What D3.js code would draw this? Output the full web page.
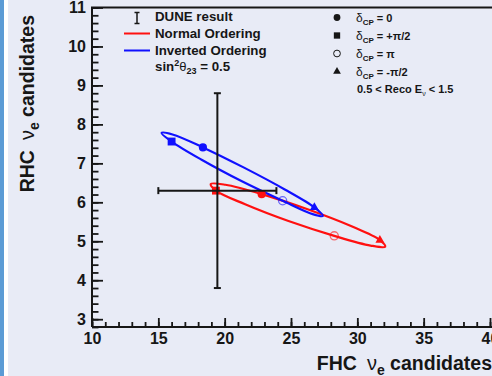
<!DOCTYPE html>
<html>
<head>
<meta charset="utf-8">
<script src="https://cdn.jsdelivr.net/npm/d3@7/dist/d3.min.js"></script>
<style>
  html, body { margin: 0; padding: 0; background: #e8ebf6; }
  svg { display: block; font-family: "Liberation Sans", Arial, Helvetica, sans-serif; }
</style>
</head>
<body>
<svg id="chart" width="492" height="376"></svg>
<script>
// Outline of the allowed (FHC, RHC) region as delta_CP runs round the circle
const normalOrderingCurve = [
  [22.79, 6.21], [20.06, 6.45], [18.95, 6.47], [19.34, 6.30], [21.54, 5.95], [24.81, 5.52],
  [28.26, 5.14], [31.00, 4.89], [32.10, 4.86], [31.70, 5.03], [29.52, 5.39], [26.25, 5.82]
];
const invertedOrderingCurve = [
  [18.36, 7.41], [16.07, 7.74], [15.24, 7.78], [16.00, 7.56], [18.23, 7.10], [21.30, 6.54],
  [24.37, 6.04], [26.69, 5.69], [27.40, 5.65], [26.76, 5.87], [24.53, 6.33], [21.46, 6.89]
];

// Marked delta_CP values, in the order 0, +pi/2, pi, -pi/2
const deltaLabels = ["0", "+\u03c0/2", "\u03c0", "-\u03c0/2"];
const normalOrderingMarkers = [[22.79, 6.21], [19.34, 6.30], [28.26, 5.14], [31.70, 5.03]];
const invertedOrderingMarkers = [[18.36, 7.41], [16.00, 7.56], [24.37, 6.04], [26.76, 5.87]];

// DUNE measurement with its uncertainties
const duneX = 19.45, duneXErr = 4.45;
const duneY = 6.30, duneYErr = 2.50;

// Axis ticks
const xMajorTicks = [10, 15, 20, 25, 30, 35, 40];
const xMinorTicks = d3.range(10, 41, 1);
const yMajorTicks = [3, 4, 5, 6, 7, 8, 9, 10, 11];
const yMinorTicks = d3.range(2.8, 11.01, 0.2);

const svg = d3.select("#chart");
const ink = "#161616";

// side strip
svg.append("rect").attr("x", 0).attr("y", 0).attr("width", 4).attr("height", 376).attr("fill", "#5b9bd5");
svg.append("rect").attr("x", 4).attr("y", 0).attr("width", 4).attr("height", 376).attr("fill", "#ffffff");

const x = d3.scaleLinear().domain([10, 40]).range([92, 490]);
const y = d3.scaleLinear().domain([2.8, 11]).range([327, 7.5]);

// minor ticks
const xMinor = svg.append("g").attr("transform", "translate(0,327)")
  .call(d3.axisBottom(x).tickValues(xMinorTicks).tickSizeInner(-5).tickSizeOuter(0).tickFormat(""));
const yMinor = svg.append("g").attr("transform", "translate(92,0)")
  .call(d3.axisLeft(y).tickValues(yMinorTicks).tickSizeInner(-6.5).tickSizeOuter(0).tickFormat(""));
// major ticks
const xMajor = svg.append("g").attr("transform", "translate(0,327)")
  .call(d3.axisBottom(x).tickValues(xMajorTicks).tickSizeInner(-9).tickSizeOuter(0).tickPadding(6).tickFormat(d3.format("d")));
const yMajor = svg.append("g").attr("transform", "translate(92,0)")
  .call(d3.axisLeft(y).tickValues(yMajorTicks).tickSizeInner(-11).tickSizeOuter(0).tickPadding(6).tickFormat(d3.format("d")));

[xMinor, yMinor, xMajor, yMajor].forEach(g => {
  g.select(".domain").remove();
  g.selectAll(".tick line").attr("stroke", ink).attr("stroke-width", 1.8);
  g.selectAll(".tick text").attr("fill", ink).attr("font-size", 16).attr("font-weight", "bold")
    .attr("font-family", "'Liberation Sans', Arial, sans-serif");
});

// frame
svg.append("path")
  .attr("d", `M92,327V7.5H492M92,327H492`)
  .attr("fill", "none").attr("stroke", ink).attr("stroke-width", 2);

// text built from styled pieces
function richText(g, parts, base) {
  const t = g.append("text").attr("fill", ink);
  Object.entries(base).forEach(([k, v]) => t.attr(k, v));
  parts.forEach(p => {
    const s = t.append("tspan").text(p.t);
    if (p.dx) s.attr("dx", p.dx);
    if (p.dy) s.attr("dy", p.dy);
    if (p.size) s.attr("font-size", p.size);
    if (p.weight) s.attr("font-weight", p.weight);
  });
  return t;
}

// axis titles
const titleParts = (first) => [
  { t: first, weight: "bold" },
  { t: "\u03bd", dx: 10, weight: "normal", size: 20 },
  { t: "e", dy: 5, size: 14, weight: "bold" },
  { t: " candidates", dy: -5, weight: "bold" }
];

richText(svg, titleParts("FHC"), { x: 492, y: 370, "text-anchor": "end", "font-size": 19.5, "font-weight": "bold" });
richText(svg.append("g").attr("transform", "translate(34,15) rotate(-90)"), titleParts("RHC"),
  { x: 0, y: 0, "text-anchor": "end", "font-size": 19.5, "font-weight": "bold" });

// allowed regions
const outline = d3.line().x(d => x(d[0])).y(d => y(d[1])).curve(d3.curveCatmullRomClosed.alpha(0.5));
const series = [
  { curve: normalOrderingCurve, markers: normalOrderingMarkers, color: "#ff1010" },
  { curve: invertedOrderingCurve, markers: invertedOrderingMarkers, color: "#1010ff" }
];
series.forEach(s => {
  svg.append("path").attr("d", outline(s.curve))
    .attr("fill", "none").attr("stroke", s.color).attr("stroke-width", 2.2);
});

// marker styles for delta_CP = 0, +pi/2, pi, -pi/2
const markerStyles = [
  { type: d3.symbolCircle, size: 52, fill: true },
  { type: d3.symbolSquare, size: 62, fill: true },
  { type: d3.symbolCircle, size: 52, fill: false },
  { type: d3.symbolTriangle, size: 34, fill: true }
];
series.forEach(s => {
  s.markers.forEach((m, i) => {
    const st = markerStyles[i];
    const p = svg.append("path")
      .attr("d", d3.symbol().type(st.type).size(st.size)())
      .attr("transform", `translate(${x(m[0])},${y(m[1])})`);
    if (st.fill) p.attr("fill", s.color);
    else p.attr("fill", "none").attr("stroke", s.color).attr("stroke-width", 1.3).attr("stroke-opacity", 0.6);
  });
});

// DUNE measurement
const dune = svg.append("g").attr("stroke", ink).attr("stroke-width", 2);
const cap = 3.5;
dune.append("line").attr("x1", x(duneX - duneXErr)).attr("x2", x(duneX + duneXErr)).attr("y1", y(duneY)).attr("y2", y(duneY));
dune.append("line").attr("x1", x(duneX)).attr("x2", x(duneX)).attr("y1", y(duneY - duneYErr)).attr("y2", y(duneY + duneYErr));
[duneX - duneXErr, duneX + duneXErr].forEach(v =>
  dune.append("line").attr("x1", x(v)).attr("x2", x(v)).attr("y1", y(duneY) - cap).attr("y2", y(duneY) + cap));
[duneY - duneYErr, duneY + duneYErr].forEach(v =>
  dune.append("line").attr("x1", x(duneX) - cap).attr("x2", x(duneX) + cap).attr("y1", y(v)).attr("y2", y(v)));

// left legend
const legL = svg.append("g");
const ibar = legL.append("g").attr("stroke", ink).attr("stroke-width", 1.5);
ibar.append("line").attr("x1", 137).attr("x2", 137).attr("y1", 12.5).attr("y2", 23.5);
ibar.append("line").attr("x1", 134.5).attr("x2", 139.5).attr("y1", 12.5).attr("y2", 12.5);
ibar.append("line").attr("x1", 134.5).attr("x2", 139.5).attr("y1", 23.5).attr("y2", 23.5);
legL.append("line").attr("x1", 124).attr("x2", 150).attr("y1", 33.5).attr("y2", 33.5).attr("stroke", "#ff1010").attr("stroke-width", 2);
legL.append("line").attr("x1", 124).attr("x2", 150).attr("y1", 50.5).attr("y2", 50.5).attr("stroke", "#1010ff").attr("stroke-width", 2);
const legFont = { "font-size": 13.3, "font-weight": "bold" };
richText(legL, [{ t: "DUNE result" }], Object.assign({ x: 155, y: 21 }, legFont));
richText(legL, [{ t: "Normal Ordering" }], Object.assign({ x: 155, y: 38 }, legFont));
richText(legL, [{ t: "Inverted Ordering" }], Object.assign({ x: 155, y: 55 }, legFont));
richText(legL, [
  { t: "sin" },
  { t: "2", dy: -5, size: 9 },
  { t: "\u03b8", dy: 5, weight: "normal", size: 13 },
  { t: "23", dy: 3, size: 9 },
  { t: " = 0.5", dy: -3 }
], Object.assign({ x: 155, y: 71 }, legFont));

// right legend
const legR = svg.append("g");
const legendRows = [17.5, 35.5, 53.5, 71.5];
const legendMarkerSizes = [36, 40, 36, 26];
legendRows.forEach((ry, i) => {
  const st = markerStyles[i];
  const p = legR.append("path")
    .attr("d", d3.symbol().type(st.type).size(legendMarkerSizes[i])())
    .attr("transform", `translate(337,${ry})`);
  if (st.fill) p.attr("fill", ink);
  else p.attr("fill", "none").attr("stroke", ink).attr("stroke-width", 1);
  richText(legR, [
    { t: "\u03b4", weight: "normal", size: 12 },
    { t: "CP", dy: 3, size: 8 },
    { t: " = ", dy: -3 },
    { t: deltaLabels[i] }
  ], { x: 356, y: ry + 4, "font-size": 11, "font-weight": "bold" });
});
richText(legR, [
  { t: "0.5 < Reco E" },
  { t: "\u03bd", dy: 3, size: 7, weight: "normal" },
  { t: " < 1.5", dy: -3 }
], { x: 357, y: 93, "font-size": 11, "font-weight": "bold" });
</script>
</body>
</html>
